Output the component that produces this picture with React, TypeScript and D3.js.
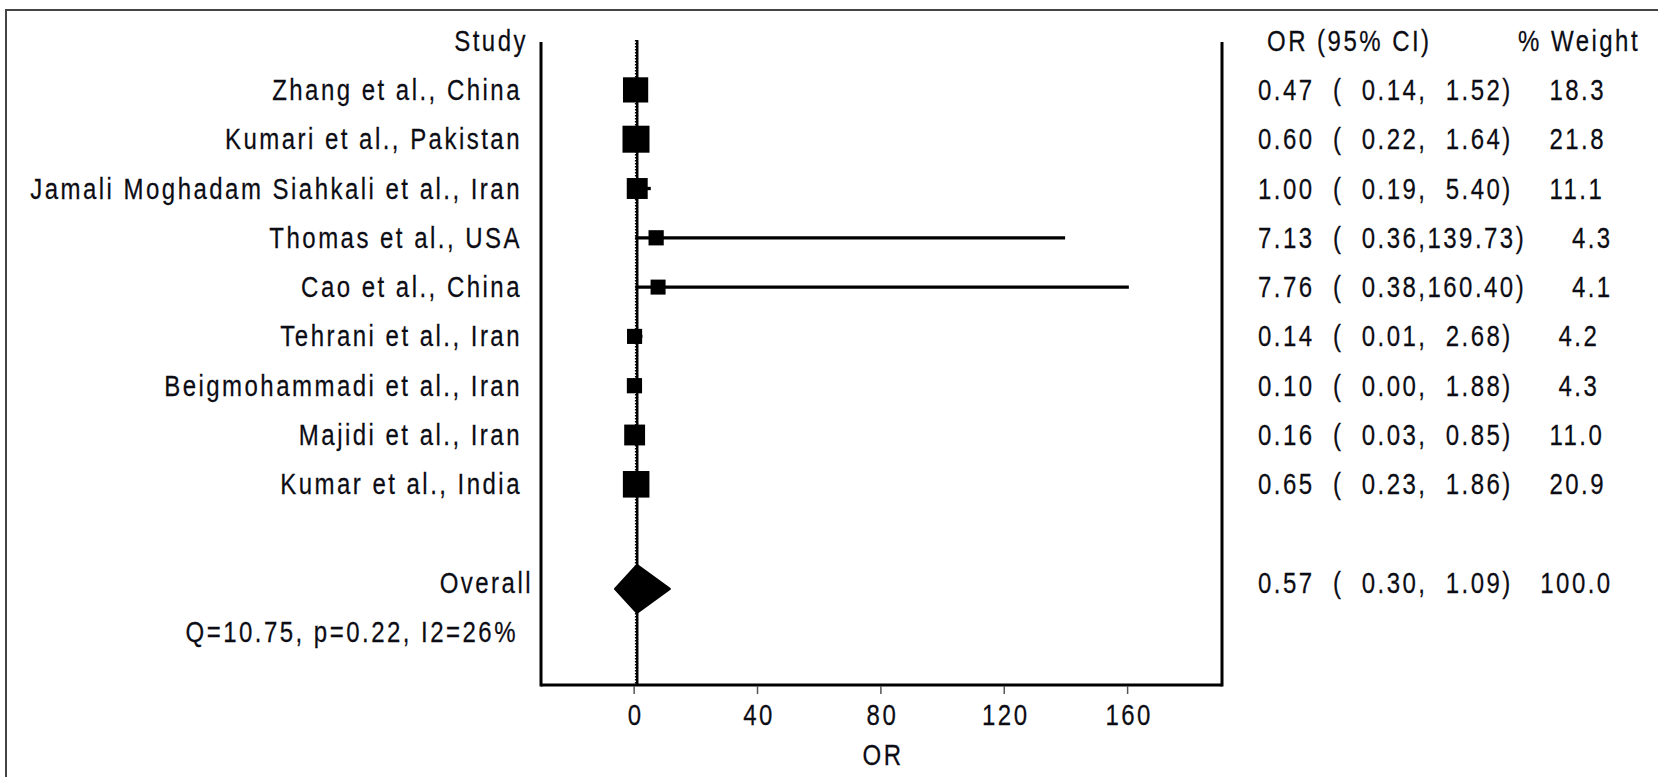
import React from 'react';
import * as d3 from 'd3';

// study rows
const studies = [
  'Zhang et al., China',
  'Kumari et al., Pakistan',
  'Jamali Moghadam Siahkali et al., Iran',
  'Thomas et al., USA',
  'Cao et al., China',
  'Tehrani et al., Iran',
  'Beigmohammadi et al., Iran',
  'Majidi et al., Iran',
  'Kumar et al., India',
];
const oddsRatio = [0.47, 0.6, 1.0, 7.13, 7.76, 0.14, 0.1, 0.16, 0.65];
const ciLow = [0.14, 0.22, 0.19, 0.36, 0.38, 0.01, 0.0, 0.03, 0.23];
const ciHigh = [1.52, 1.64, 5.4, 139.73, 160.4, 2.68, 1.88, 0.85, 1.86];
const weights = [18.3, 21.8, 11.1, 4.3, 4.1, 4.2, 4.3, 11.0, 20.9];

const overallOR = 0.57;
const overallLow = 0.3;
const overallHigh = 1.09;
const overallWeight = 100.0;
const heterogeneity = 'Q=10.75, p=0.22, I2=26%';

const xTicks = [0, 40, 80, 120, 160];

const FONT = "'Liberation Sans', Arial, sans-serif";
const SX = 0.8;

const T = ({x, y, anchor = 'start', children}: any) => (
  <text
    transform={`translate(${x},${y}) scale(${SX},1)`}
    textAnchor={anchor}
    fontFamily={FONT}
    fontSize={30}
    letterSpacing={3.1}
    fill="#0c0c14"
    stroke="#0c0c14"
    strokeWidth={0.25}
    xmlSpace="preserve"
    style={{whiteSpace: 'pre'}}
  >
    {children}
  </text>
);

const p6 = (v: number) => v.toFixed(2).padStart(6, ' ');
const rowText = (or: number, lo: number, hi: number, w: number) =>
  `${or.toFixed(2)}  (${p6(lo)},${p6(hi)})   ${w.toFixed(1).padStart(5, ' ')}`;

export default function App() {
  const W = 1658, H = 777;
  const left = 541, right = 1222, top = 42, bottom = 685;

  const x = d3.scaleLinear().domain([-30.2, 190.6]).range([left, right]);
  // row index: 0 header, 1..9 studies, 11 overall, 12 heterogeneity
  const y = d3.scaleLinear().domain([0, 12]).range([40.6, 632.2]);
  const side = d3.scaleSqrt().domain([4.1, 21.8]).range([15, 27]);

  const oy = y(11) + 3;
  const ox = x(overallOR);
  const diamond = d3.line().curve(d3.curveLinearClosed)([
    [ox - 21, oy + 3],
    [ox + 1, oy - 21],
    [ox + 34, oy + 3],
    [ox + 1, oy + 27],
  ]);

  return (
    <svg width={W} height={H} style={{position: 'absolute', left: 0, top: 0, background: '#fff'}}>
      <rect x={6} y={10} width={1700} height={800} fill="none" stroke="#444" strokeWidth={2} />

      {/* frame */}
      <line x1={left} x2={left} y1={top} y2={bottom + 1.5} stroke="#000" strokeWidth={3} />
      <line x1={right} x2={right} y1={top} y2={bottom + 1.5} stroke="#000" strokeWidth={3} />
      <line x1={left} x2={right} y1={bottom} y2={bottom} stroke="#000" strokeWidth={3} />

      {/* reference lines */}
      <line x1={x(1)} x2={x(1)} y1={40} y2={bottom} stroke="#000" strokeWidth={2.5} />
      <line x1={x(overallOR)} x2={x(overallOR)} y1={40} y2={bottom} stroke="#000" strokeWidth={2} strokeDasharray="1.5 1.5" />

      {/* studies */}
      {studies.map((s, i) => {
        const cy = y(i + 1);
        const sz = side(weights[i]);
        return (
          <g key={s}>
            <line x1={x(ciLow[i])} x2={x(ciHigh[i])} y1={cy} y2={cy} stroke="#000" strokeWidth={3.3} />
            <rect x={x(oddsRatio[i]) - sz / 2} y={cy - sz / 2} width={sz} height={sz} fill="#000" />
            <T x={522} y={cy + 10} anchor="end">{s}</T>
            <T x={1258} y={cy + 10}>{rowText(oddsRatio[i], ciLow[i], ciHigh[i], weights[i])}</T>
          </g>
        );
      })}

      {/* overall */}
      <path d={diamond ?? ''} fill="#000" stroke="#000" strokeWidth={2} strokeLinejoin="round" />
      <T x={533} y={y(11) + 10} anchor="end">Overall</T>
      <T x={1258} y={y(11) + 10}>{rowText(overallOR, overallLow, overallHigh, overallWeight)}</T>
      <T x={518} y={y(12) + 10} anchor="end">{heterogeneity}</T>

      {/* headers */}
      <T x={528} y={y(0) + 10} anchor="end">Study</T>
      <T x={1267} y={y(0) + 10}>OR (95% CI)</T>
      <T x={1518} y={y(0) + 10}>% Weight</T>

      {/* x axis */}
      {xTicks.map(t => (
        <g key={t}>
          <line x1={x(t)} x2={x(t)} y1={bottom + 1} y2={bottom + 9} stroke="#555" strokeWidth={1.5} />
          <T x={x(t) + 1.5} y={725} anchor="middle">{String(t)}</T>
        </g>
      ))}
      <T x={(left + right) / 2 + 1.5} y={765} anchor="middle">OR</T>
    </svg>
  );
}
